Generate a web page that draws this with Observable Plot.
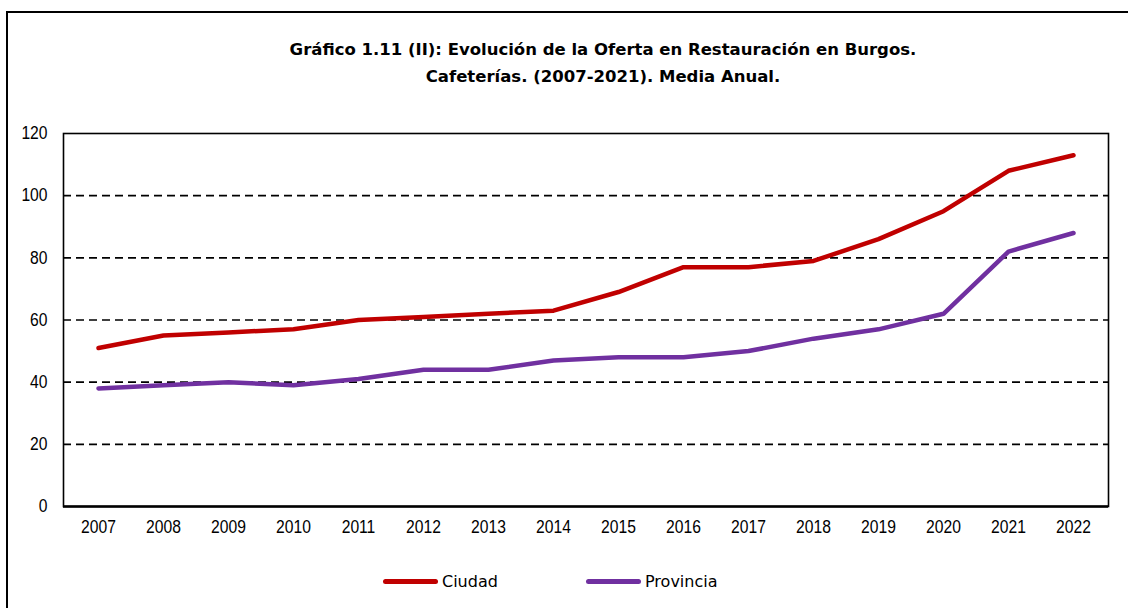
<!DOCTYPE html>
<html><head><meta charset="utf-8">
<script src="https://cdn.jsdelivr.net/npm/d3@7"></script>
<script src="https://cdn.jsdelivr.net/npm/@observablehq/plot@0.6"></script>
<style>
body{margin:0;background:#fff;width:1128px;height:608px;overflow:hidden;position:relative;font-family:"Liberation Sans",Arial,sans-serif}
#border{position:absolute;left:6px;top:11px;width:1200px;height:700px;border-left:2px solid #000;border-top:2px solid #000;box-sizing:border-box}
#title{position:absolute;left:0;top:36px;width:1206px;text-align:center;font-family:"DejaVu Sans",Verdana,sans-serif;font-weight:bold;font-size:16.5px;line-height:27px;color:#000}
#chart{position:absolute;left:0;top:110px}
#legend{position:absolute;left:0;top:569px;width:1128px;height:24px;font-family:"DejaVu Sans",Tahoma,sans-serif;font-size:16px;color:#000}
.item{position:absolute;top:0;height:24px;display:flex;align-items:center}
.sw{display:inline-block;width:55px;height:5px;border-radius:3px;margin-right:4px}
</style></head>
<body>
<div id="border"></div>
<div id="title">Gráfico 1.11 (II): Evolución de la Oferta en Restauración en Burgos.<br>Cafeterías. (2007-2021). Media Anual.</div>
<div id="chart"></div>
<div id="legend"></div>
<script>
const years = ["2007","2008","2009","2010","2011","2012","2013","2014","2015","2016","2017","2018","2019","2020","2021","2022"];
const ciudad = [51,55,56,57,60,61,62,63,69,77,77,79,86,95,108,113];
const provincia = [38,39,40,39,41,44,44,47,48,48,50,54,57,62,82,88];
const series = ["Ciudad","Provincia"];
const colors = ["#C00000","#7030A0"];
const yTicks = [0,20,40,60,80,100,120];
const gridValues = [20,40,60,80,100];

const data = years.flatMap((y,i)=>[
  {year:y, value:ciudad[i], serie:series[0]},
  {year:y, value:provincia[i], serie:series[1]}
]);

const chart = Plot.plot({
  width:1128, height:440,
  marginLeft:63, marginRight:20, marginTop:23, marginBottom:44,
  style:{fontFamily:'"Liberation Sans",Arial,sans-serif', fontSize:"18px", color:"#000", background:"transparent"},
  x:{type:"point", domain:years, padding:0.5, label:null, tickSize:0, tickPadding:14},
  y:{domain:[0,120], ticks:yTicks, label:null, tickSize:0, tickPadding:16},
  color:{domain:series, range:colors},
  marks:[
    Plot.ruleY(gridValues, {stroke:"#000", strokeWidth:1.6, strokeDasharray:"8,5"}),
    Plot.frame({stroke:"#000", strokeWidth:1.6}),
    Plot.ruleY([0], {stroke:"#000", strokeWidth:2.5}),
    Plot.line(data, {x:"year", y:"value", stroke:"serie", strokeWidth:4.5, strokeLinecap:"round", strokeLinejoin:"round"})
  ]
});
// narrow the tick labels horizontally (reference uses a condensed face)
chart.querySelectorAll('g[aria-label="x-axis tick label"] text, g[aria-label="y-axis tick label"] text').forEach(t=>{
  const tr = t.getAttribute("transform") || "";
  t.setAttribute("transform", tr + " scale(0.87,1)");
});
document.getElementById("chart").appendChild(chart);

const legend = document.getElementById("legend");
const lx = [383, 586];
series.forEach((s,i)=>{
  const it = document.createElement("div");
  it.className="item"; it.style.left = lx[i]+"px";
  it.innerHTML = `<span class="sw" style="background:${colors[i]}"></span><span>${s}</span>`;
  legend.appendChild(it);
});
</script>
</body></html>
